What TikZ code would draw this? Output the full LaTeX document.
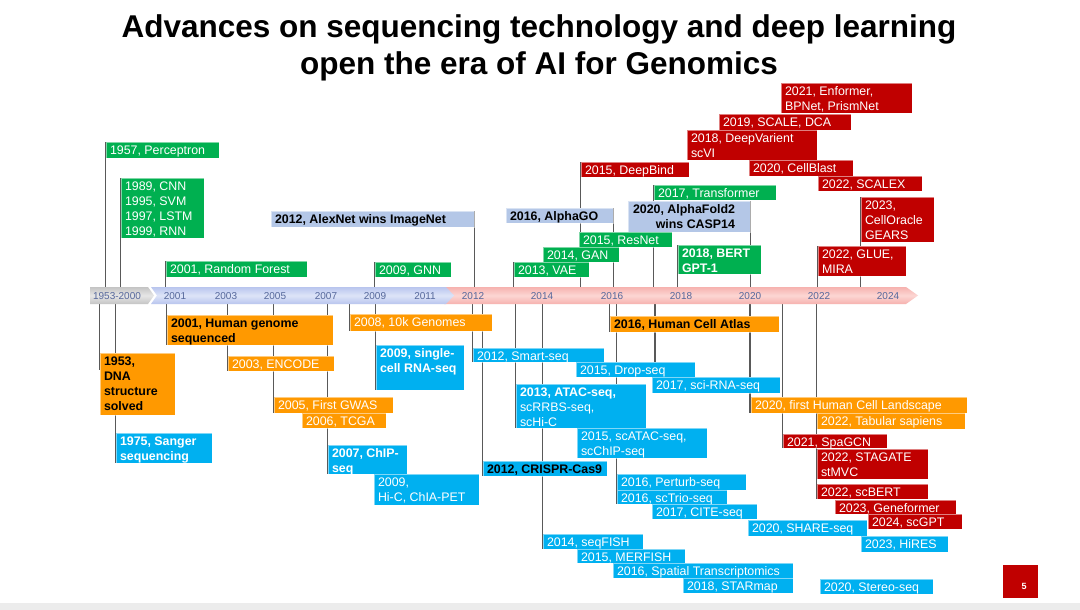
\documentclass[tikz,border=0pt]{standalone}
\usepackage{fontspec}
\setmainfont{Liberation Sans}
\usetikzlibrary{calc}
\pgfdeclarelayer{bg}
\pgfsetlayers{bg,main}
\definecolor{cgreen}{HTML}{00B050}
\definecolor{cred}{HTML}{C00000}
\definecolor{corange}{HTML}{FF9900}
\definecolor{ccyan}{HTML}{00B0F0}
\definecolor{clblue}{HTML}{B4C7E7}
\definecolor{linegray}{HTML}{595959}
\definecolor{yrcol}{HTML}{55679B}
\definecolor{bandblueE}{HTML}{B9C5EE}
\definecolor{bandblueM}{HTML}{DDE4F8}
\definecolor{bandpinkE}{HTML}{F6B2AF}
\definecolor{bandpinkM}{HTML}{FCD6D3}
\definecolor{bandgrayE}{HTML}{C4C4C4}
\definecolor{bandgrayM}{HTML}{E6E6E6}
\newcommand\mkbox[8]{%
  \node[boxs,fill=#6,anchor=north west,minimum width={#4pt-#2pt},minimum height={#5pt-#3pt}] (#1) at (#2,#3) {};
  \node[txt,#7,anchor=north west] (#1t) at ([xshift=4pt,yshift=-2.6pt]#1.north west) {\strut #8\strut};}
\newcommand\upl[2]{\draw[vline,transform canvas={xshift=#2}] (#1) -- (#1 |- bandtop);}
\newcommand\dnl[2]{\draw[vline,transform canvas={xshift=#2}] (#1 |- bandbot) -- (#1);}
\tikzset{
  boxs/.style={rectangle,draw=white,draw opacity=0.5,line width=0.4pt,inner sep=0pt,outer sep=0pt},
  txt/.style={inner sep=0pt,outer sep=0pt,align=left,font=\fontsize{12.4}{14.8}\selectfont},
  wt/.style={text=white},
  wb/.style={text=white,font=\fontsize{12.4}{14.8}\selectfont\bfseries},
  kb/.style={text=black,font=\fontsize{12.4}{14.8}\selectfont\bfseries},
  vline/.style={draw=linegray,line width=1.3pt},
  yr/.style={text=yrcol,inner sep=0pt,font=\fontsize{10}{12}\selectfont},
  ttl/.style={inner sep=0pt,anchor=base,font=\fontsize{31.5}{37}\selectfont\bfseries},
}
\begin{document}
\begin{tikzpicture}[x=1pt,y=-1pt]
\useasboundingbox (0,0) rectangle (1080,610);
\begin{pgfonlayer}{bg}
\fill[white] (0,0) rectangle (1080,610);
\end{pgfonlayer}
\fill[gray!15] (0,603) rectangle (1080,610);

% title
\node[ttl] (title1) at (539,38) {Advances on sequencing technology and deep learning};
\node[ttl] (title2) at (539,75) {open the era of AI for Genomics};

% timeline band
\coordinate (bandtop) at (0,287);
\coordinate (bandbot) at (0,304);
\shade[top color=bandgrayE,bottom color=bandgrayE,middle color=bandgrayM]
  (90,287) -- (148,287) -- (154,295.5) -- (148,304) -- (90,304) -- cycle;
\shade[top color=bandpinkE,bottom color=bandpinkE,middle color=bandpinkM]
  (444,287) -- (906,287) -- (918,295.5) -- (906,304) -- (444,304) -- cycle;
\shade[top color=bandblueE,bottom color=bandblueE,middle color=bandblueM]
  (151,287) -- (446,287) -- (454,295.5) -- (446,304) -- (151,304) -- (157,295.5) -- cycle;
\node[yr] (y1953) at (117,296) {1953-2000};
\node[yr] (y2001) at (175,296) {2001};
\node[yr] (y2003) at (226,296) {2003};
\node[yr] (y2005) at (275,296) {2005};
\node[yr] (y2007) at (326,296) {2007};
\node[yr] (y2009) at (375,296) {2009};
\node[yr] (y2011) at (425,296) {2011};
\node[yr] (y2012) at (473,296) {2012};
\node[yr] (y2014) at (542,296) {2014};
\node[yr] (y2016) at (612,296) {2016};
\node[yr] (y2018) at (681,296) {2018};
\node[yr] (y2020) at (750,296) {2020};
\node[yr] (y2022) at (819,296) {2022};
\node[yr] (y2024) at (888,296) {2024};

% ---- boxes above the timeline
\mkbox{perc}{106}{142}{219}{158}{cgreen}{wt}{1957, Perceptron}
\mkbox{cnn}{121}{178}{204}{238}{cgreen}{wt}{1989, CNN\\1995, SVM\\1997, LSTM\\1999, RNN}
\mkbox{rf}{166}{261}{307}{277}{cgreen}{wt}{2001, Random Forest}
\mkbox{gnn}{375}{262}{451}{277}{cgreen}{wt}{2009, GNN}
\mkbox{alex}{271}{211}{474}{227}{clblue}{kb}{2012, AlexNet wins ImageNet}
\mkbox{enf}{781}{83}{912}{113}{cred}{wt}{2021, Enformer,\\BPNet, PrismNet}
\mkbox{scale}{719}{114}{851}{130}{cred}{wt}{2019, SCALE, DCA}
\mkbox{deepv}{687}{130}{817}{160}{cred}{wt}{2018, DeepVarient\\scVI}
\mkbox{cellb}{749}{160}{853}{176}{cred}{wt}{2020, CellBlast}
\mkbox{scalex}{818}{176}{922}{191}{cred}{wt}{2022, SCALEX}
\mkbox{deepb}{581}{162}{689}{177}{cred}{wt}{2015, DeepBind}
\mkbox{transf}{654}{185}{776}{200}{cgreen}{wt}{2017, Transformer}
\mkbox{alphago}{506}{208}{613}{223}{clblue}{kb}{2016, AlphaGO}
\node[boxs,fill=clblue,anchor=north west,minimum width=122pt,minimum height=31pt] (alphaf) at (628,201) {};
\node[txt,kb,align=right,anchor=north east] (alphaft) at ([xshift=-15pt,yshift=-2.6pt]alphaf.north east) {\strut 2020, AlphaFold2\\wins CASP14\strut};
\mkbox{resnet}{579}{232}{672}{247}{cgreen}{wt}{2015, ResNet}
\mkbox{gan}{543}{247}{619}{262}{cgreen}{wt}{2014, GAN}
\mkbox{vae}{514}{262}{589}{277}{cgreen}{wt}{2013, VAE}
\mkbox{bert}{678}{245}{761}{274}{cgreen}{wb}{2018, BERT\\GPT-1}
\mkbox{glue}{818}{246}{906}{276}{cred}{wt}{2022, GLUE,\\MIRA}
\mkbox{cello}{861}{197}{934}{242}{cred}{wt}{2023,\\CellOracle\\GEARS}

% ---- boxes below the timeline
\mkbox{hg}{167}{315}{333}{345}{corange}{kb}{2001, Human genome\\sequenced}
\mkbox{dna}{100}{353}{175}{415}{corange}{kb}{1953,\\DNA\\structure\\solved}
\mkbox{sanger}{116}{433}{212}{463}{ccyan}{wb}{1975, Sanger\\sequencing}
\mkbox{encode}{228}{356}{334}{371}{corange}{wt}{2003, ENCODE}
\mkbox{gwas}{274}{397}{393}{413}{corange}{wt}{2005, First GWAS}
\mkbox{tcga}{302}{413}{386}{428}{corange}{wt}{2006, TCGA}
\mkbox{chip}{328}{445}{407}{474}{ccyan}{wb}{2007, ChIP-\\seq}
\mkbox{hic}{374}{474}{479}{505}{ccyan}{wt}{2009,\\Hi-C, ChIA-PET}
\mkbox{tenk}{350}{314}{492}{331}{corange}{wt}{2008, 10k Genomes}
\mkbox{sc}{376}{345}{464}{390}{ccyan}{wb}{2009, single-\\cell RNA-seq}
\mkbox{smart}{473}{348}{604}{362}{ccyan}{wt}{2012, Smart-seq}
\mkbox{drop}{576}{362}{695}{377}{ccyan}{wt}{2015, Drop-seq}
\mkbox{sci}{652}{377}{780}{393}{ccyan}{wt}{2017, sci-RNA-seq}
\mkbox{hca}{610}{316}{779}{332}{corange}{kb}{2016, Human Cell Atlas}
\mkbox{atac}{516}{384}{646}{428}{ccyan}{wt}{\textbf{2013, ATAC-seq,}\\scRRBS-seq,\\scHi-C}
\mkbox{scatac}{577}{428}{707}{458}{ccyan}{wt}{2015, scATAC-seq,\\scChIP-seq}
\mkbox{crispr}{483}{461}{607}{476}{ccyan}{kb}{2012, CRISPR-Cas9}
\mkbox{perturb}{617}{474}{746}{490}{ccyan}{wt}{2016, Perturb-seq}
\mkbox{sctrio}{617}{490}{727}{504}{ccyan}{wt}{2016, scTrio-seq}
\mkbox{cite}{652}{504}{757}{519}{ccyan}{wt}{2017, CITE-seq}
\mkbox{share}{748}{520}{867}{536}{ccyan}{wt}{2020, SHARE-seq}
\mkbox{hires}{861}{536}{948}{552}{ccyan}{wt}{2023, HiRES}
\mkbox{seqfish}{543}{534}{643}{549}{ccyan}{wt}{2014, seqFISH}
\mkbox{merfish}{577}{549}{685}{563}{ccyan}{wt}{2015, MERFISH}
\mkbox{spatial}{613}{563}{793}{578}{ccyan}{wt}{2016, Spatial Transcriptomics}
\mkbox{starmap}{683}{578}{793}{593}{ccyan}{wt}{2018, STARmap}
\mkbox{stereo}{820}{579}{933}{594}{ccyan}{wt}{2020, Stereo-seq}
\mkbox{hcl}{751}{397}{967}{413}{corange}{wt}{2020, first Human Cell Landscape}
\mkbox{tabular}{817}{413}{965}{429}{corange}{wt}{2022, Tabular sapiens}
\mkbox{spagcn}{783}{434}{887}{448}{cred}{wt}{2021, SpaGCN}
\mkbox{stagate}{817}{449}{928}{479}{cred}{wt}{2022, STAGATE\\stMVC}
\mkbox{scbert}{817}{484}{928}{499}{cred}{wt}{2022, scBERT}
\mkbox{genef}{835}{500}{956}{514}{cred}{wt}{2023, Geneformer}
\mkbox{scgpt}{868}{514}{962}{529}{cred}{wt}{2024, scGPT}

% slide number
\node[rectangle,fill=cred,inner sep=0pt,anchor=north west,minimum width=35pt,minimum height=33pt] (slide) at (1003,565) {};
\node[text=white,inner sep=0pt,font=\fontsize{9}{10}\selectfont\bfseries] (slidet) at (1024,586) {5};

% ---- connector lines (behind boxes)
\begin{pgfonlayer}{bg}
\upl{perc.north west}{-0.6pt}
\upl{cnn.north west}{-0.6pt}
\upl{rf.north west}{-0.6pt}
\upl{gnn.north west}{-0.6pt}
\upl{alex.north east}{0.6pt}
\upl{vae.north west}{-0.6pt}
\upl{deepb.north west}{-0.6pt}
\upl{alphago.north east}{0.6pt}
\upl{transf.north west}{-0.6pt}
\upl{bert.north west}{-0.6pt}
\upl{alphaf.north east}{0.6pt}
\upl{glue.north west}{-0.6pt}
\upl{cello.north west}{-0.6pt}
\coordinate (dnaend) at ([yshift=14pt]dna.west);
\dnl{dnaend}{-0.6pt}
\dnl{hg.south west}{-0.6pt}
\dnl{sanger.south west}{-0.6pt}
\dnl{encode.south west}{-0.6pt}
\dnl{gwas.south west}{-0.6pt}
\dnl{chip.south west}{-0.6pt}
\dnl{tenk.south west}{-0.6pt}
\dnl{sc.south west}{-0.6pt}
\dnl{smart.south west}{-0.6pt}
\dnl{crispr.south west}{-0.6pt}
\dnl{atac.south west}{-0.6pt}
\dnl{seqfish.south west}{-0.6pt}
\dnl{hca.south west}{-0.6pt}
\dnl{sctrio.south west}{-0.6pt}
\coordinate (sciend) at ([xshift=3pt]sci.north west);
\dnl{sciend}{0pt}
\dnl{hcl.south west}{-1pt}
\dnl{spagcn.south west}{-0.6pt}
\dnl{scbert.south west}{-0.6pt}
\end{pgfonlayer}
\end{tikzpicture}
\end{document}
